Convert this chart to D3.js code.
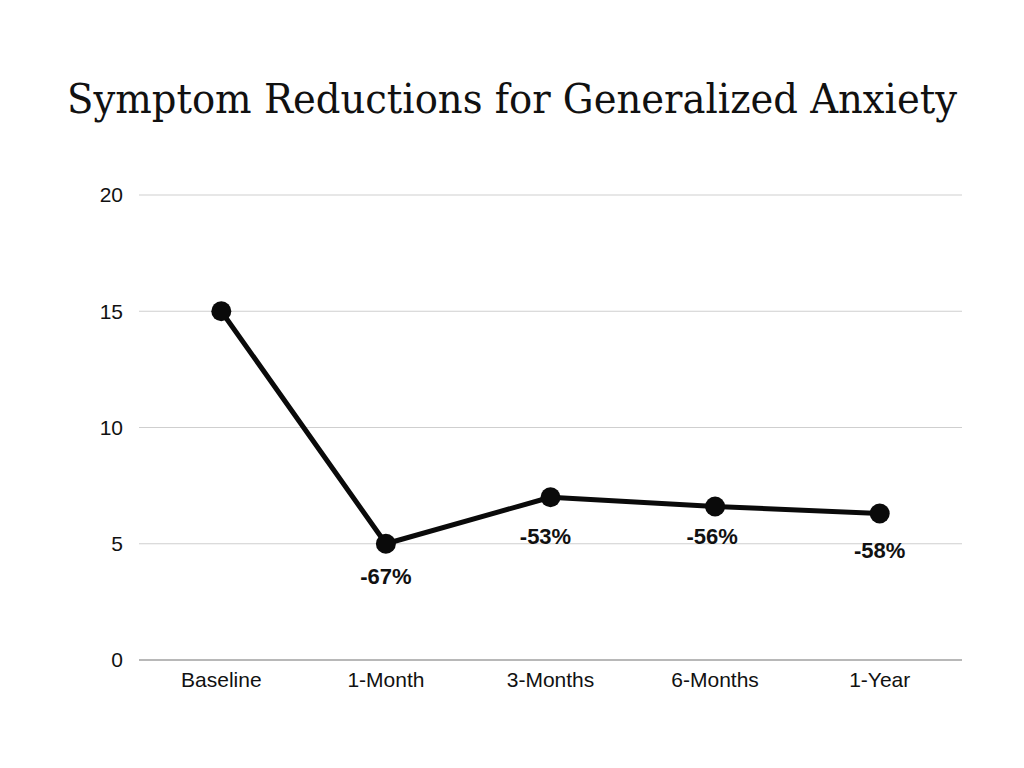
<!DOCTYPE html>
<html>
<head>
<meta charset="utf-8">
<script src="https://cdn.jsdelivr.net/npm/d3@7"></script>
<style>
  body { margin: 0; background: #fff; }
  svg { display: block; }
</style>
</head>
<body>
<svg></svg>
<script>
// chart data
var categories = ["Baseline", "1-Month", "3-Months", "6-Months", "1-Year"];
var scores = [15, 5, 7, 6.6, 6.3];
var changeLabels = ["", "-67%", "-53%", "-56%", "-58%"];
var yTicks = [0, 5, 10, 15, 20];

var width = 1024, height = 768;
var margin = {top: 195, right: 62, bottom: 108, left: 139};

var svg = d3.select("svg").attr("width", width).attr("height", height);

var x = d3.scaleBand()
    .domain(categories)
    .range([margin.left, width - margin.right]);

var y = d3.scaleLinear()
    .domain([0, 20])
    .range([height - margin.bottom, margin.top]);

// title
svg.append("text")
  .attr("x", 67)
  .attr("y", 113)
  .attr("textLength", 890)
  .attr("lengthAdjust", "spacingAndGlyphs")
  .style("font-family", "'DejaVu Serif', 'Liberation Serif', serif")
  .style("font-size", "41px")
  .style("fill", "#111")
  .text("Symptom Reductions for Generalized Anxiety");

// grid lines
svg.append("g")
  .selectAll("line")
  .data(yTicks)
  .enter()
  .append("line")
  .attr("x1", margin.left)
  .attr("x2", width - margin.right)
  .attr("y1", function (d) {return y(d);})
  .attr("y2", function (d) {return y(d);})
  .attr("stroke", function (d) {return d === 0 ? "#a0a0a0" : "#cfcfcf";})
  .attr("stroke-width", function (d) {return d === 0 ? 1.5 : 1;});

// y tick labels
svg.append("g")
  .selectAll("text")
  .data(yTicks)
  .enter()
  .append("text")
  .attr("x", 123)
  .attr("y", function (d) {return y(d);})
  .attr("dy", "0.35em")
  .attr("text-anchor", "end")
  .style("font-family", "'Liberation Sans', Arial, sans-serif")
  .style("font-size", "21px")
  .style("fill", "#111")
  .text(function (d) {return d;});

// x tick labels
svg.append("g")
  .selectAll("text")
  .data(categories)
  .enter()
  .append("text")
  .attr("x", function (d) {return x(d) + x.bandwidth() / 2;})
  .attr("y", height - margin.bottom + 27)
  .attr("text-anchor", "middle")
  .style("font-family", "'Liberation Sans', Arial, sans-serif")
  .style("font-size", "21px")
  .style("fill", "#111")
  .text(function (d) {return d;});

var points = categories.map(function (c, i) {
  return {cat: c, value: scores[i], label: changeLabels[i]};
});

var line = d3.line()
    .x(function (d) {return x(d.cat) + x.bandwidth() / 2;})
    .y(function (d) {return y(d.value);});

svg.append("path")
  .datum(points)
  .attr("d", line)
  .attr("fill", "none")
  .attr("stroke", "#0a0a0a")
  .attr("stroke-width", 5)
  .attr("stroke-linejoin", "round");

svg.append("g")
  .selectAll("circle")
  .data(points)
  .enter()
  .append("circle")
  .attr("cx", function (d) {return x(d.cat) + x.bandwidth() / 2;})
  .attr("cy", function (d) {return y(d.value);})
  .attr("r", 10)
  .attr("fill", "#0a0a0a");

// percent change labels
var labelDy = [0, 40, 47, 37, 44];
var labelDx = [0, 0, -5, -3, 0];
svg.append("g")
  .selectAll("text")
  .data(points)
  .enter()
  .append("text")
  .attr("x", function (d, i) {return x(d.cat) + x.bandwidth() / 2 + labelDx[i];})
  .attr("y", function (d, i) {return y(d.value) + labelDy[i];})
  .attr("text-anchor", "middle")
  .style("font-family", "'Liberation Sans', Arial, sans-serif")
  .style("font-size", "22px")
  .style("font-weight", "bold")
  .style("fill", "#111")
  .text(function (d) {return d.label;});
</script>
</body>
</html>
